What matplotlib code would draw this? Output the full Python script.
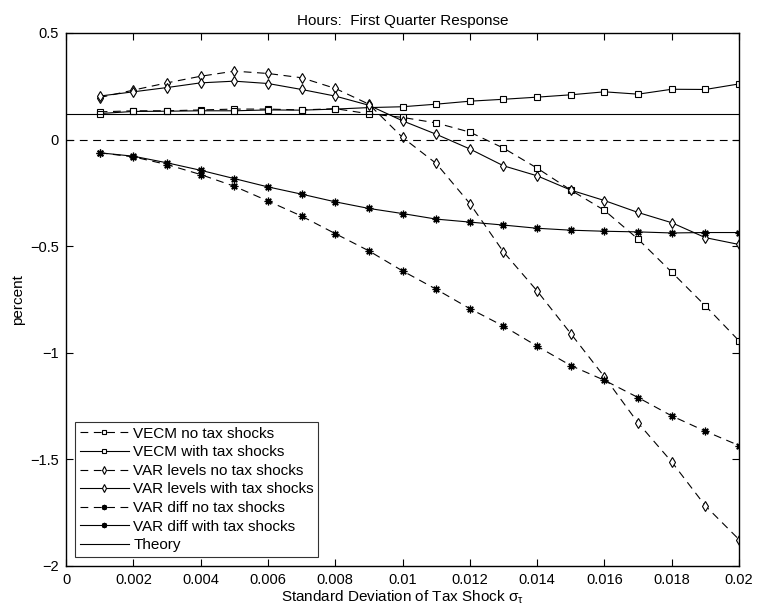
import matplotlib
matplotlib.use("Agg")
import matplotlib.pyplot as plt
import numpy as np

plt.rcParams['font.family'] = ['Liberation Sans', 'DejaVu Sans']
plt.rcParams['mathtext.default'] = 'regular'

sigma = [0.001, 0.002, 0.003, 0.004, 0.005, 0.006, 0.007, 0.008, 0.009, 0.010,
         0.011, 0.012, 0.013, 0.014, 0.015, 0.016, 0.017, 0.018, 0.019, 0.020]

vecm_no_tax = [0.130, 0.135, 0.135, 0.139, 0.143, 0.143, 0.139, 0.145, 0.121, 0.104,
               0.078, 0.035, -0.040, -0.134, -0.237, -0.332, -0.467, -0.622, -0.780, -0.944]
vecm_with_tax = [0.122, 0.132, 0.133, 0.135, 0.135, 0.139, 0.138, 0.143, 0.150, 0.154,
                 0.166, 0.180, 0.189, 0.199, 0.210, 0.224, 0.213, 0.236, 0.235, 0.261]
varlev_no_tax = [0.197, 0.232, 0.266, 0.297, 0.321, 0.310, 0.290, 0.240, 0.166, 0.010,
                 -0.112, -0.300, -0.527, -0.710, -0.910, -1.113, -1.329, -1.512, -1.718, -1.876]
varlev_with_tax = [0.204, 0.224, 0.244, 0.266, 0.274, 0.263, 0.235, 0.204, 0.161, 0.088,
                   0.025, -0.044, -0.123, -0.170, -0.237, -0.286, -0.342, -0.390, -0.460, -0.492]
vardiff_no_tax = [-0.062, -0.081, -0.117, -0.164, -0.219, -0.288, -0.359, -0.441, -0.522, -0.616,
                  -0.702, -0.793, -0.875, -0.969, -1.060, -1.129, -1.210, -1.296, -1.368, -1.435]
vardiff_with_tax = [-0.062, -0.078, -0.109, -0.144, -0.183, -0.222, -0.256, -0.292, -0.323, -0.347,
                    -0.373, -0.387, -0.401, -0.416, -0.425, -0.430, -0.433, -0.438, -0.436, -0.436]
theory = 0.12

xticks = [0, 0.002, 0.004, 0.006, 0.008, 0.01, 0.012, 0.014, 0.016, 0.018, 0.02]
xticklabels = ['0', '0.002', '0.004', '0.006', '0.008', '0.01', '0.012', '0.014', '0.016', '0.018', '0.02']
yticks = [-2, -1.5, -1, -0.5, 0, 0.5]
yticklabels = ['\u22122', '\u22121.5', '\u22121', '\u22120.5', '0', '0.5']

fig = plt.figure(figsize=(7.58, 6.14), dpi=100)
ax = fig.add_axes([0.0871, 0.0782, 0.8879, 0.8681])

dash = (0, (7, 5))
lw = 0.8
ast = (8, 2, 0)
ax.plot(sigma, vecm_no_tax, color='k', lw=lw, linestyle=dash, marker='s', ms=4.5,
        mfc='white', mec='k', mew=0.8, label='VECM no tax shocks')
ax.plot(sigma, vecm_with_tax, color='k', lw=lw, linestyle='-', marker='s', ms=4.5,
        mfc='white', mec='k', mew=0.8, label='VECM with tax shocks')
ax.plot(sigma, varlev_no_tax, color='k', lw=lw, linestyle=dash, marker='d', ms=5.5,
        mfc='white', mec='k', mew=0.8, label='VAR levels no tax shocks')
ax.plot(sigma, varlev_with_tax, color='k', lw=lw, linestyle='-', marker='d', ms=5.5,
        mfc='white', mec='k', mew=0.8, label='VAR levels with tax shocks')
ax.plot(sigma, vardiff_no_tax, color='k', lw=lw, linestyle=dash, marker=ast, ms=5.5,
        mfc='k', mec='k', mew=0.9, label='VAR diff no tax shocks')
ax.plot(sigma, vardiff_with_tax, color='k', lw=lw, linestyle='-', marker=ast, ms=5.5,
        mfc='k', mec='k', mew=0.9, label='VAR diff with tax shocks')
ax.axhline(theory, color='k', lw=lw, label='Theory')
ax.axhline(0, color='k', lw=lw, linestyle=dash)

ax.set_xlim(0, 0.02)
ax.set_ylim(-2, 0.5)
ax.set_xticks(xticks)
ax.set_xticklabels(xticklabels)
ax.set_yticks(yticks)
ax.set_yticklabels(yticklabels)
ax.tick_params(direction='in', top=True, right=True, labelsize=10.5, length=5, width=0.8, pad=5)
for s in ax.spines.values():
    s.set_linewidth(1.0)

ax.set_title('Hours:  First Quarter Response', fontsize=11, pad=6)
ax.set_xlabel(r'Standard Deviation of Tax Shock $\sigma_\tau$', fontsize=11, labelpad=1)
ax.set_ylabel('percent', fontsize=11, labelpad=4)

leg = ax.legend(loc='lower left', fontsize=11, frameon=True, fancybox=False,
                edgecolor='k', borderpad=0.3, labelspacing=0.3, handlelength=3.2,
                handletextpad=0.3, borderaxespad=0.6, markerscale=0.7)
leg.get_frame().set_linewidth(0.8)

fig.savefig('out.png', dpi=100)
